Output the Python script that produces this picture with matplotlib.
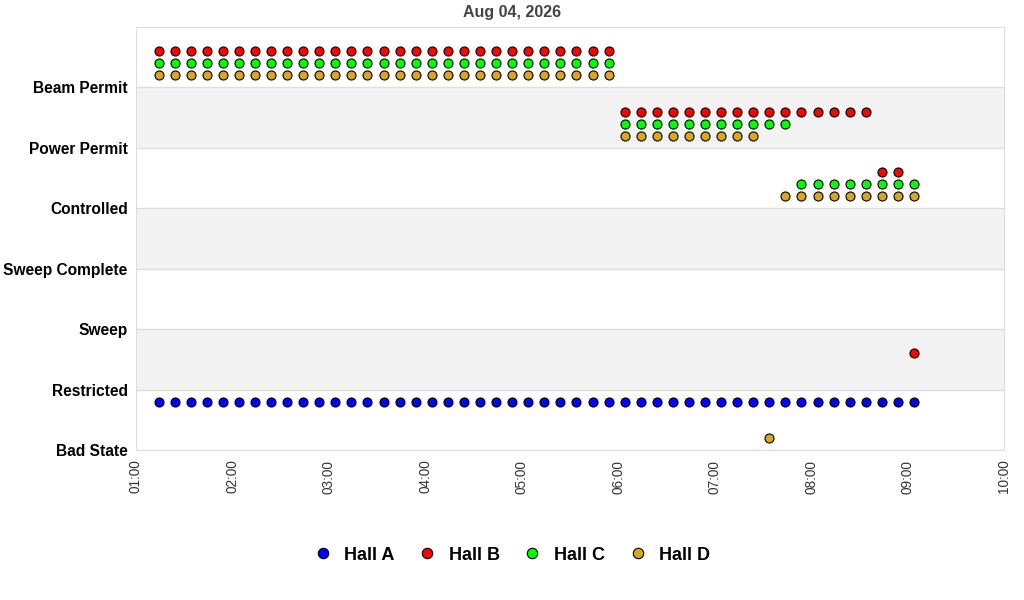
import matplotlib
matplotlib.use("Agg")
import matplotlib.pyplot as plt

plt.rcParams["font.family"] = ["Liberation Sans", "DejaVu Sans"]

# Estados (ordem do eixo y, de baixo para cima)
states = ["Bad State", "Restricted", "Sweep", "Sweep Complete",
          "Controlled", "Power Permit", "Beam Permit"]

# Horários das leituras (a cada 10 min)
times = ["01:14", "01:24", "01:34", "01:44", "01:54", "02:04", "02:14", "02:24",
         "02:34", "02:44", "02:54", "03:04", "03:14", "03:24", "03:34", "03:44",
         "03:54", "04:04", "04:14", "04:24", "04:34", "04:44", "04:54", "05:04",
         "05:14", "05:24", "05:34", "05:44", "05:54", "06:04", "06:14", "06:24",
         "06:34", "06:44", "06:54", "07:04", "07:14", "07:24", "07:34", "07:44",
         "07:54", "08:04", "08:14", "08:24", "08:34", "08:44", "08:54", "09:04"]

# Índice do estado de cada hall em cada horário
hall_a = [0, 0, 0, 0, 0, 0, 0, 0, 0, 0, 0, 0, 0, 0, 0, 0,
          0, 0, 0, 0, 0, 0, 0, 0, 0, 0, 0, 0, 0, 0, 0, 0,
          0, 0, 0, 0, 0, 0, 0, 0, 0, 0, 0, 0, 0, 0, 0, 0]
hall_b = [6, 6, 6, 6, 6, 6, 6, 6, 6, 6, 6, 6, 6, 6, 6, 6,
          6, 6, 6, 6, 6, 6, 6, 6, 6, 6, 6, 6, 6, 5, 5, 5,
          5, 5, 5, 5, 5, 5, 5, 5, 5, 5, 5, 5, 5, 4, 4, 1]
hall_c = [6, 6, 6, 6, 6, 6, 6, 6, 6, 6, 6, 6, 6, 6, 6, 6,
          6, 6, 6, 6, 6, 6, 6, 6, 6, 6, 6, 6, 6, 5, 5, 5,
          5, 5, 5, 5, 5, 5, 5, 5, 4, 4, 4, 4, 4, 4, 4, 4]
hall_d = [6, 6, 6, 6, 6, 6, 6, 6, 6, 6, 6, 6, 6, 6, 6, 6,
          6, 6, 6, 6, 6, 6, 6, 6, 6, 6, 6, 6, 6, 5, 5, 5,
          5, 5, 5, 5, 5, 5, 0, 4, 4, 4, 4, 4, 4, 4, 4, 4]

hall_names = ["Hall A", "Hall B", "Hall C", "Hall D"]
hall_colors = ["#0000ff", "#ff0000", "#00ff00", "#daa520"]
hall_offsets = [0.8, 0.6, 0.4, 0.2]

x_ticks = ["01:00", "02:00", "03:00", "04:00", "05:00",
           "06:00", "07:00", "08:00", "09:00", "10:00"]


def to_hours(t):
    h, m = t.split(":")
    return int(h) + int(m) / 60


x = [to_hours(t) for t in times]

fig = plt.figure(figsize=(10.24, 6.0), dpi=100)
ax = fig.add_axes([136 / 1024, 1 - 450 / 600, 868 / 1024, 423 / 600])

# faixas alternadas
for i in range(len(states)):
    if i % 2 == 1:
        ax.axhspan(i, i + 1, color="#f3f3f3", zorder=0, lw=0)
    ax.axhline(i, color="#dddddd", lw=1, zorder=1)

for dados, nome, cor, off in zip([hall_a, hall_b, hall_c, hall_d],
                                 hall_names, hall_colors, hall_offsets):
    ax.plot(x, [s + off for s in dados], "o", ls="none", color=cor,
            markeredgecolor="black", markeredgewidth=0.8, markersize=6.5,
            label=nome, zorder=3)

ax.set_xlim(1, 10)
ax.set_ylim(0, 7)
ax.set_xticks([to_hours(t) for t in x_ticks])
ax.set_xticklabels(x_ticks, rotation=90, fontsize=9.8, color="#333333")
ax.set_yticks(range(len(states)))
ax.set_yticklabels(states, fontsize=11.2, fontweight="bold")
ax.tick_params(length=0, pad=6)
ax.tick_params(axis="x", pad=7)
for s in ax.spines.values():
    s.set_color("#dddddd")

fig.text(0.5, 1 - 13 / 600, "Aug 04, 2026", ha="center", va="center",
         fontsize=11.5, fontweight="bold", color="#444444")

fig.legend(loc="center", bbox_to_anchor=(0.5, 1 - 555 / 600), ncol=4,
           frameon=False, prop={"size": 13, "weight": "bold"},
           markerscale=1.15, handlelength=1.0, handletextpad=0.7,
           columnspacing=1.3)

fig.savefig("out.png", dpi=100)
